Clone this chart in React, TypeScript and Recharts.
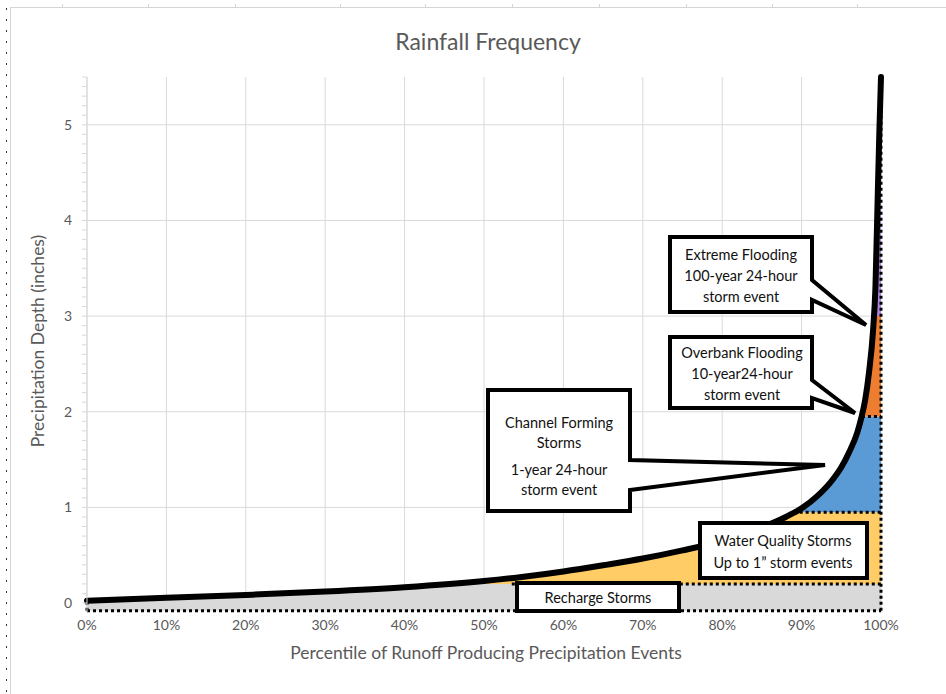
import React from 'react';
import { ComposedChart, Line, Area, XAxis, YAxis, CartesianGrid, ReferenceLine } from 'recharts';

// Percentile of runoff producing precipitation events (%)
const percentiles = [0, 10, 20, 30, 40, 50, 55, 60, 65, 70, 75, 80, 85, 88, 90, 92, 94, 95, 96, 97, 97.5, 98, 98.5, 99, 99.3, 99.6, 99.8, 100];
// Precipitation depth (inches)
const depths = [0.025, 0.055, 0.085, 0.12, 0.165, 0.23, 0.275, 0.33, 0.395, 0.465, 0.55, 0.65, 0.79, 0.9, 0.99, 1.12, 1.3, 1.42, 1.58, 1.78, 1.93, 2.12, 2.42, 2.85, 3.3, 4.3, 4.95, 5.5];

// storm class bands (lower, upper edge in inches)
const bandKeys = ['recharge', 'waterQuality', 'channel', 'overbank', 'extreme'];
const bandLower = [-0.08, 0.2, 0.95, 1.95, 3.0];
const bandUpper = [0.2, 0.95, 1.95, 3.0, 5.6];
const bandColors = ['#d9d9d9', '#ffcc66', '#5b9bd5', '#ed7d31', '#b085dc'];
// where each band edge meets the curve (percentile)
const edgeStart = [0, 53.5, 89, 97.6];
const edgeDepth = [-0.08, 0.2, 0.95, 1.95];

const xTicks = [0, 10, 20, 30, 40, 50, 60, 70, 80, 90, 100];
const yMajor = [0, 1, 2, 3, 4, 5];
const yMinor: number[] = [];
for (let i = 0; i <= 55; i++) yMinor.push(i / 10);

const data = percentiles.map((p, i) => {
  const row: any = { p, d: depths[i] };
  bandKeys.forEach((k, j) => {
    const lo = bandLower[j];
    const hi = Math.max(lo, Math.min(depths[i], bandUpper[j]));
    row[k] = [lo, hi];
  });
  return row;
});

const FONT = 'Lato, "Open Sans", sans-serif';

type CalloutProps = {
  x1: number; y1: number; x2: number; y2: number;
  pointer?: { ya: number; yb: number; tx: number; ty: number };
  lines: { t: string; y: number }[];
  cx: number;
};

function Callout({ x1, y1, x2, y2, pointer, lines, cx }: CalloutProps) {
  let d = `M${x1},${y1} L${x2},${y1} `;
  if (pointer) {
    d += `L${x2},${pointer.ya} L${pointer.tx},${pointer.ty} L${x2},${pointer.yb} `;
  }
  d += `L${x2},${y2} L${x1},${y2} Z`;
  return (
    <g>
      <path d={d} fill="#fff" stroke="#000" strokeWidth={4} strokeLinejoin="miter" />
      {lines.map((l, i) => (
        <text key={i} x={cx} y={l.y} textAnchor="middle" dominantBaseline="central" fontSize={14.5} fill="#111" fontFamily={FONT}>
          {l.t}
        </text>
      ))}
    </g>
  );
}

const topTicks = [62, 148, 235, 340, 425, 512, 599, 686, 772, 857];

export default function App() {
  return (
    <div style={{ position: 'absolute', left: 0, top: 0, width: 946, height: 694, background: '#fff', overflow: 'hidden' }}>
      <ComposedChart
        width={946}
        height={694}
        data={data}
        margin={{ top: 77, right: 65, bottom: 51.4, left: 0 }}
      >
        <CartesianGrid stroke="#d9d9d9" strokeWidth={1} horizontalValues={yMajor} verticalValues={xTicks} />
        <XAxis
          type="number"
          dataKey="p"
          domain={[0, 100]}
          ticks={xTicks}
          interval={0}
          tickFormatter={(v: number) => `${v}%`}
          axisLine={false}
          tickLine={false}
          tickSize={0}
          tickMargin={7}
          height={30}
          tick={{ fill: '#595959', fontSize: 14, fontFamily: FONT }}
        />
        <YAxis
          type="number"
          domain={[-0.1, 5.5]}
          ticks={yMinor}
          interval={0}
          width={87}
          tickFormatter={(v: number) => (Math.abs(v - Math.round(v)) < 1e-6 ? String(Math.round(v)) : '')}
          axisLine={{ stroke: '#d9d9d9' }}
          tickLine={{ stroke: '#d9d9d9' }}
          tickSize={5}
          tickMargin={10}
          tick={{ fill: '#595959', fontSize: 14, fontFamily: FONT }}
        />
        {bandKeys.map((k, j) => (
          <Area
            key={k}
            dataKey={k}
            type="monotone"
            fill={bandColors[j]}
            fillOpacity={1}
            stroke="none"
            isAnimationActive={false}
            activeDot={false}
          />
        ))}
        {edgeStart.map((s, i) => (
          <ReferenceLine
            key={'e' + i}
            segment={[{ x: s, y: edgeDepth[i] }, { x: 100, y: edgeDepth[i] }]}
            stroke="#000"
            strokeWidth={3}
            strokeDasharray="3 3"
            ifOverflow="visible"
          />
        ))}
        <ReferenceLine
          segment={[{ x: 100, y: -0.08 }, { x: 100, y: 5.5 }]}
          stroke="#000"
          strokeWidth={3}
          strokeDasharray="3 3"
          ifOverflow="visible"
        />
        <ReferenceLine
          segment={[{ x: 0, y: -0.08 }, { x: 0, y: 0.02 }]}
          stroke="#000"
          strokeWidth={3}
          strokeDasharray="3 3"
          ifOverflow="visible"
        />
        <Line
          dataKey="d"
          type="monotone"
          stroke="#000"
          strokeWidth={6}
          strokeLinecap="round"
          dot={false}
          activeDot={false}
          isAnimationActive={false}
        />
      </ComposedChart>
      <svg width={946} height={694} style={{ position: 'absolute', left: 0, top: 0, pointerEvents: 'none' }}>
        {/* worksheet edges */}
        <line x1={10} y1={7.5} x2={946} y2={7.5} stroke="#d4d4d4" strokeWidth={1} />
        <line x1={10.5} y1={7} x2={10.5} y2={694} stroke="#d4d4d4" strokeWidth={1} />
        <line x1={6.5} y1={8} x2={6.5} y2={694} stroke="#333" strokeWidth={1} strokeDasharray="2 9" />
        {topTicks.map((x) => (
          <line key={x} x1={x + 0.5} y1={4} x2={x + 0.5} y2={7} stroke="#d4d4d4" strokeWidth={1} />
        ))}
        <text x={488} y={41} textAnchor="middle" dominantBaseline="central" fontSize={23} fill="#595959" fontFamily={FONT}>
          Rainfall Frequency
        </text>
        <text x={486} y={652} textAnchor="middle" dominantBaseline="central" fontSize={17.5} fill="#595959" fontFamily={FONT}>
          Percentile of Runoff Producing Precipitation Events
        </text>
        <text
          x={37}
          y={341}
          textAnchor="middle"
          dominantBaseline="central"
          fontSize={17.5}
          fill="#595959"
          fontFamily={FONT}
          transform="rotate(-90 37 341)"
        >
          Precipitation Depth (inches)
        </text>
        <Callout
          x1={670} y1={237} x2={812} y2={312}
          pointer={{ ya: 280, yb: 300, tx: 866, ty: 325 }}
          cx={741}
          lines={[{ t: 'Extreme Flooding', y: 254 }, { t: '100-year 24-hour', y: 275 }, { t: 'storm event', y: 296 }]}
        />
        <Callout
          x1={670} y1={337} x2={812} y2={408}
          pointer={{ ya: 380, yb: 398, tx: 855, ty: 413 }}
          cx={742}
          lines={[{ t: 'Overbank Flooding', y: 352 }, { t: '10-year24-hour', y: 373 }, { t: 'storm event', y: 394 }]}
        />
        <Callout
          x1={488} y1={390} x2={630} y2={511}
          pointer={{ ya: 460, yb: 490, tx: 825, ty: 465 }}
          cx={559}
          lines={[
            { t: 'Channel Forming', y: 422 },
            { t: 'Storms', y: 442 },
            { t: '1-year 24-hour', y: 469 },
            { t: 'storm event', y: 489 },
          ]}
        />
        <Callout
          x1={700} y1={523} x2={867} y2={578}
          cx={783}
          lines={[{ t: 'Water Quality Storms', y: 540 }, { t: 'Up to 1\u201d storm events', y: 562 }]}
        />
        <Callout
          x1={517} y1={583} x2={679} y2={611}
          cx={598}
          lines={[{ t: 'Recharge Storms', y: 597 }]}
        />
      </svg>
    </div>
  );
}
